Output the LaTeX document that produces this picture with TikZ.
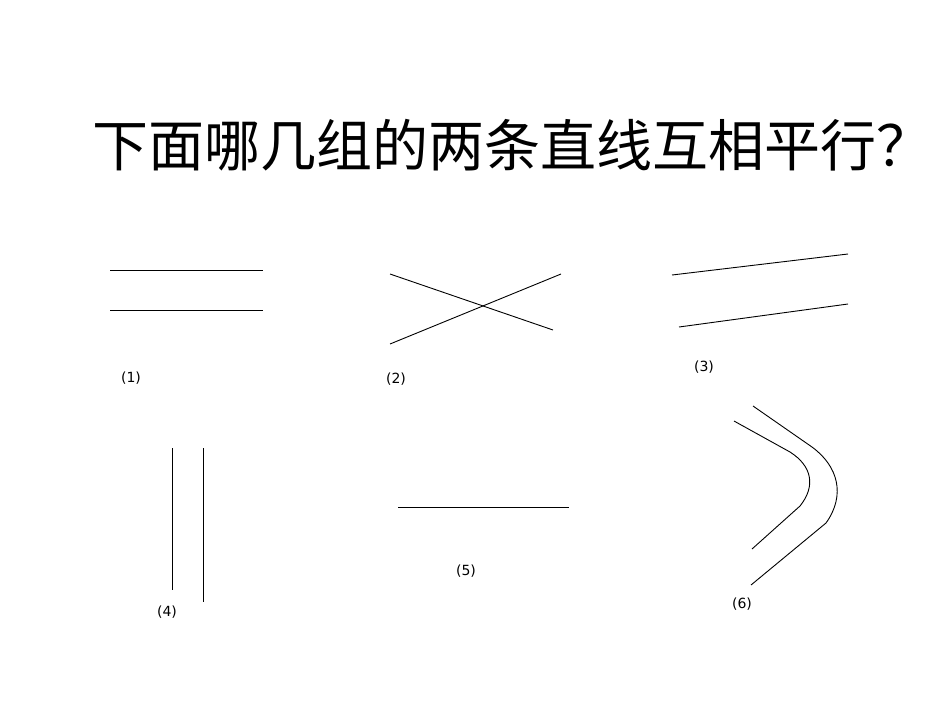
\documentclass[tikz,border=0pt]{standalone}
\usepackage{fontspec}
\newfontfamily\cjk{Noto Sans CJK SC}
\setmainfont{DejaVu Sans}
\begin{document}
\begin{tikzpicture}[x=1pt,y=-1pt,ln/.style={line width=0.9pt},lab/.style={font=\fontsize{14}{16}\selectfont}]
\useasboundingbox[fill=white] (0,0) rectangle (950,713);
\node[font=\cjk\fontsize{56}{60}\selectfont,anchor=west,inner sep=0pt] (title) at (92,145) {下面哪几组的两条直线互相平行？};
\coordinate (a1) at (110,270); \coordinate (a2) at (263,270);
\coordinate (b1) at (110,310); \coordinate (b2) at (263,310);
\draw[ln] (a1)--(a2); \draw[ln] (b1)--(b2);
\node[lab] (l1) at (131,378) {(1)};
\coordinate (c1) at (390,274); \coordinate (c2) at (553,330);
\coordinate (d1) at (390,344); \coordinate (d2) at (561,274);
\draw[ln] (c1)--(c2); \draw[ln] (d1)--(d2);
\node[lab] (l2) at (396,379) {(2)};
\coordinate (e1) at (672,275); \coordinate (e2) at (848,254);
\coordinate (f1) at (679,327); \coordinate (f2) at (848,304);
\draw[ln] (e1)--(e2); \draw[ln] (f1)--(f2);
\node[lab] (l3) at (704,367) {(3)};
\coordinate (g1) at (172,448); \coordinate (g2) at (172,590);
\coordinate (h1) at (203,448); \coordinate (h2) at (203,602);
\draw[ln] (g1)--(g2); \draw[ln] (h1)--(h2);
\node[lab] (l4) at (167,612) {(4)};
\coordinate (i1) at (398,507); \coordinate (i2) at (569,507);
\draw[ln] (i1)--(i2);
\node[lab] (l5) at (466,571) {(5)};
\draw[ln] (753,406) -- (812,447) .. controls (838,466) and (846,495) .. (826,523) -- (751,585);
\draw[ln] (734,421) -- (790,452) .. controls (812,466) and (816,486) .. (800,506) -- (752,549);
\node[lab] (l6) at (742,604) {(6)};
\end{tikzpicture}
\end{document}
